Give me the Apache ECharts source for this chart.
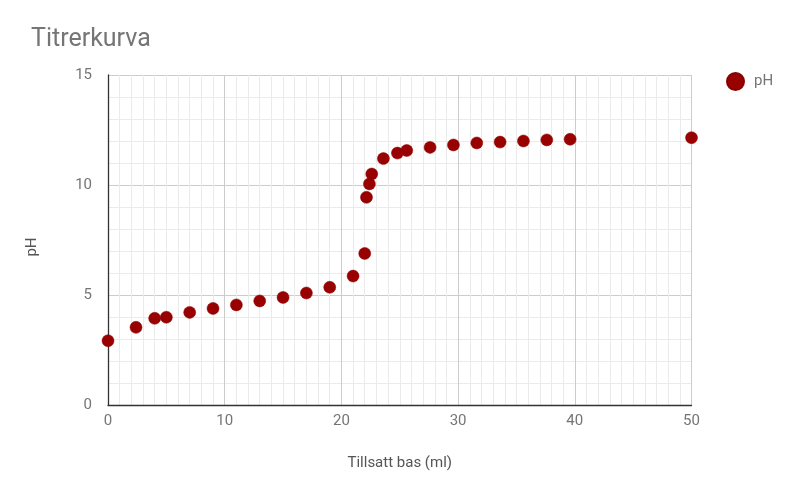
<!DOCTYPE html>
<html>
<head>
<meta charset="utf-8">
<script src="https://cdn.jsdelivr.net/npm/echarts@6/dist/echarts.min.js"></script>
<style>html,body{margin:0;padding:0;background:#fff}#c{width:800px;height:494px}</style>
</head>
<body>
<div id="c"></div>
<script>
var baseMl = [0, 2.4, 4, 5, 7, 9, 11, 13, 15, 17, 19, 21, 22, 22.15, 22.4, 22.6, 23.6, 24.8, 25.6, 27.6, 29.6, 31.6, 33.6, 35.6, 37.6, 39.6, 50];
var phValues = [2.92, 3.53, 3.94, 3.99, 4.21, 4.39, 4.55, 4.73, 4.89, 5.09, 5.35, 5.86, 6.89, 9.44, 10.05, 10.5, 11.2, 11.45, 11.57, 11.71, 11.82, 11.91, 11.95, 12.0, 12.05, 12.08, 12.15];
var xTicks = [0, 10, 20, 30, 40, 50];
var yTicks = [0, 5, 10, 15];

var points = baseMl.map(function (x, i) { return [x, phValues[i]]; });
var font = 'Roboto';
var chart = echarts.init(document.getElementById('c'), null, {renderer: 'canvas'});
chart.setOption({
  animation: false,
  textStyle: {fontFamily: font},
  title: {
    text: 'Titrerkurva', left: 26, top: 22,
    textStyle: {fontFamily: font, fontSize: 25, fontWeight: 'normal', color: '#757575'}
  },
  legend: {
    orient: 'vertical', left: 721, top: 67,
    itemWidth: 27, itemHeight: 17, icon: 'circle',
    textStyle: {fontFamily: font, fontSize: 15, color: '#757575'},
    data: ['pH']
  },
  grid: {left: 108, right: 108.5, top: 75, bottom: 89, containLabel: false},
  xAxis: {
    type: 'value', min: xTicks[0], max: xTicks[xTicks.length - 1], interval: 10,
    name: 'Tillsatt bas (ml)', nameLocation: 'middle', nameGap: 51,
    nameTextStyle: {fontFamily: font, fontSize: 15, color: '#555'},
    axisLine: {show: true, onZero: false, lineStyle: {color: '#333', width: 1.3}},
    axisTick: {show: false},
    axisLabel: {fontFamily: font, fontSize: 15, color: '#757575', margin: 9},
    splitLine: {show: true, lineStyle: {color: '#cccccc', width: 1}},
    minorTick: {show: false, splitNumber: 10},
    minorSplitLine: {show: true, lineStyle: {color: '#ebebeb', width: 1}}
  },
  yAxis: {
    type: 'value', min: yTicks[0], max: yTicks[yTicks.length - 1], interval: 5,
    name: 'pH', nameLocation: 'middle', nameGap: 68,
    nameTextStyle: {fontFamily: font, fontSize: 15, color: '#555', padding: [0, 14, 0, 0]},
    axisLine: {show: true, onZero: false, lineStyle: {color: '#333', width: 1.3}},
    axisTick: {show: false},
    axisLabel: {fontFamily: font, fontSize: 15, color: '#757575', margin: 16},
    splitLine: {show: true, lineStyle: {color: '#cccccc', width: 1}},
    minorTick: {show: false, splitNumber: 5},
    minorSplitLine: {show: true, lineStyle: {color: '#ebebeb', width: 1}}
  },
  series: [{
    name: 'pH', type: 'scatter', symbol: 'circle', symbolSize: 12,
    itemStyle: {color: '#990000', opacity: 1, borderColor: '#8a0000', borderWidth: 0.5},
    data: points
  }]
});
</script>
</body>
</html>
